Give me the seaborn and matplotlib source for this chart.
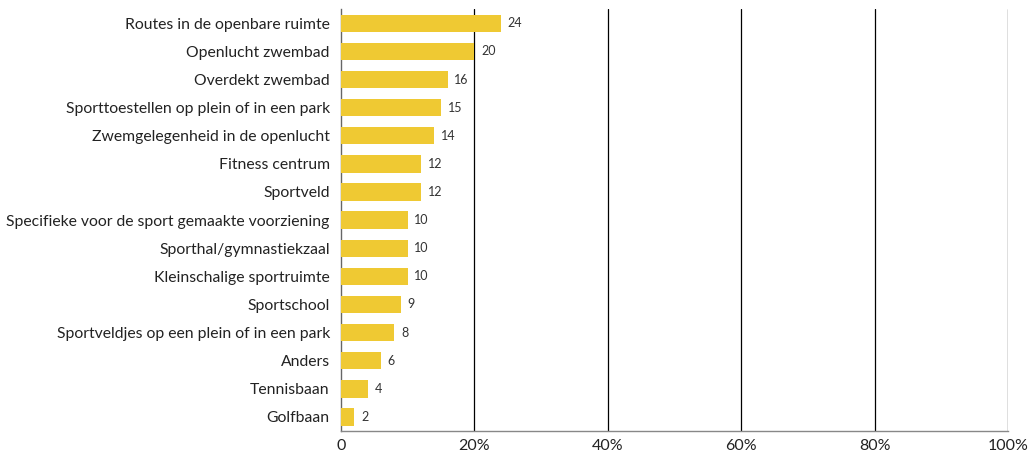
import matplotlib
matplotlib.use("Agg")
import matplotlib.pyplot as plt
import seaborn as sns
import pandas as pd
from matplotlib.ticker import FuncFormatter

# data
categories = [
    "Routes in de openbare ruimte",
    "Openlucht zwembad",
    "Overdekt zwembad",
    "Sporttoestellen op plein of in een park",
    "Zwemgelegenheid in de openlucht",
    "Fitness centrum",
    "Sportveld",
    "Specifieke voor de sport gemaakte voorziening",
    "Sporthal/gymnastiekzaal",
    "Kleinschalige sportruimte",
    "Sportschool",
    "Sportveldjes op een plein of in een park",
    "Anders",
    "Tennisbaan",
    "Golfbaan",
]
values = [24, 20, 16, 15, 14, 12, 12, 10, 10, 10, 9, 8, 6, 4, 2]

df = pd.DataFrame({"categorie": categories, "waarde": values})

sns.set_style("white")
plt.rcParams["font.family"] = ["Lato", "DejaVu Sans"]

fig = plt.figure(figsize=(10.31, 4.53), dpi=100)
ax = fig.add_axes([0.3307, 0.0486, 0.6470, 0.931])

sns.barplot(data=df, x="waarde", y="categorie", color="#EFC933",
            width=0.62, saturation=1, linewidth=0, ax=ax, zorder=3)

# value labels
for i, v in enumerate(values):
    ax.text(v + 1.0, i, str(v), va="center", ha="left", fontsize=9, color="#333333")

ax.set_xlim(0, 100)
ax.set_xticks([0, 20, 40, 60, 80, 100])
ax.xaxis.set_major_formatter(FuncFormatter(lambda x, p: "0" if x == 0 else f"{int(x)}%"))
ax.tick_params(axis="x", labelsize=11.5, colors="#222222", length=0, pad=6)
ax.tick_params(axis="y", labelsize=11.3, colors="#222222", length=0, pad=8)
ax.set_xlabel("")
ax.set_ylabel("")

for x in [20, 40, 60, 80, 100]:
    ax.axvline(x, color="black", linewidth=0.9, zorder=1)

for s in ["top", "right"]:
    ax.spines[s].set_visible(False)
ax.spines["left"].set_color("#666666")
ax.spines["bottom"].set_color("#888888")
ax.spines["left"].set_linewidth(1)
ax.spines["bottom"].set_linewidth(1)

fig.savefig("out.png", dpi=100)
